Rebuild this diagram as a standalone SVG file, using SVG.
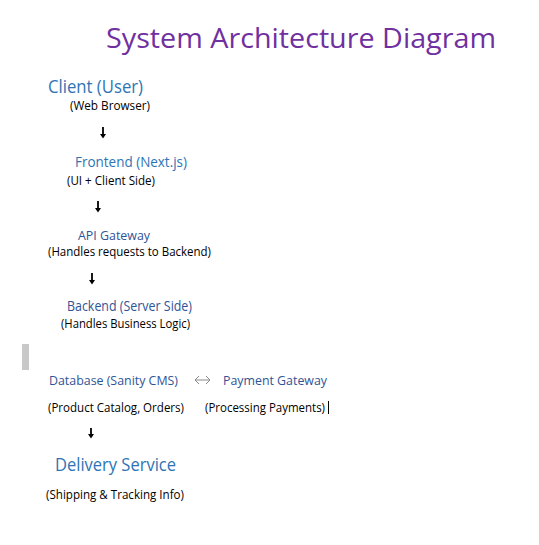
<svg xmlns="http://www.w3.org/2000/svg" width="539" height="545" viewBox="0 0 539 545">
  <defs>
    <style>
      text { font-family: "Open Sans", "Noto Sans", "Liberation Sans", sans-serif; }
      .title { fill: #7030A0; font-size: 27px; }
      .h1 { fill: #2E74B5; }
      .h3 { fill: #2F5496; }
      .desc { fill: #000000; font-size: 12px; }
      .arrow { stroke: #000000; stroke-width: 1.8; fill: none; }
      .head { fill: #000000; stroke: none; }
      .dbl { stroke: #8a8a8a; stroke-width: 1; fill: none; }
    </style>
  </defs>
  <rect x="0" y="0" width="539" height="545" fill="#ffffff"/>

  <text class="title" x="106" y="47.5" textLength="390" lengthAdjust="spacingAndGlyphs">System Architecture Diagram</text>

  <g id="client">
    <text class="h1" x="48" y="92.5" font-size="18" textLength="95" lengthAdjust="spacingAndGlyphs">Client (User)</text>
    <text class="desc" x="70" y="109.5" font-size="11.5" textLength="80" lengthAdjust="spacingAndGlyphs">(Web Browser)</text>
  </g>

  <g id="frontend">
    <text class="h1" x="75" y="167" font-size="15" textLength="112" lengthAdjust="spacingAndGlyphs">Frontend (Next.js)</text>
    <text class="desc" x="67" y="184.5" textLength="88" lengthAdjust="spacingAndGlyphs">(UI + Client Side)</text>
  </g>

  <g id="api-gateway">
    <text class="h3" x="78" y="239.5" font-size="13.5" textLength="72" lengthAdjust="spacingAndGlyphs">API Gateway</text>
    <text class="desc" x="48" y="256" textLength="163" lengthAdjust="spacingAndGlyphs">(Handles requests to Backend)</text>
  </g>

  <g id="backend">
    <text class="h3" x="67" y="311" font-size="14" textLength="125" lengthAdjust="spacingAndGlyphs">Backend (Server Side)</text>
    <text class="desc" x="61" y="328" textLength="129" lengthAdjust="spacingAndGlyphs">(Handles Business Logic)</text>
  </g>

  <rect x="22" y="344" width="7" height="26" fill="#c8c8c8"/>

  <g id="database">
    <text class="h3" x="49" y="385" font-size="13.5" textLength="129" lengthAdjust="spacingAndGlyphs">Database (Sanity CMS)</text>
    <text class="desc" x="48" y="412" textLength="136" lengthAdjust="spacingAndGlyphs">(Product Catalog, Orders)</text>
  </g>

  <g id="payment-gateway">
    <text class="h3" x="223" y="385" font-size="13.5" textLength="104" lengthAdjust="spacingAndGlyphs">Payment Gateway</text>
    <text class="desc" x="205" y="412" textLength="120" lengthAdjust="spacingAndGlyphs">(Processing Payments)</text>
  </g>

  <line x1="328.5" y1="401" x2="328.5" y2="414" stroke="#000000" stroke-width="1"/>

  <g id="delivery-service">
    <text class="h1" x="55" y="471" font-size="18.5" textLength="121" lengthAdjust="spacingAndGlyphs">Delivery Service</text>
    <text class="desc" x="46" y="499" font-size="12.5" textLength="138" lengthAdjust="spacingAndGlyphs">(Shipping &amp; Tracking Info)</text>
  </g>

  <g id="connectors">
    <line class="arrow" x1="103" y1="127" x2="103" y2="135"/>
    <path class="head" d="M100,134 L106,134 L103,138.5 Z"/>

    <line class="arrow" x1="98" y1="201" x2="98" y2="209"/>
    <path class="head" d="M95,208 L101,208 L98,212.5 Z"/>

    <line class="arrow" x1="92" y1="273" x2="92" y2="281"/>
    <path class="head" d="M89,280 L95,280 L92,284.5 Z"/>

    <line class="arrow" x1="91" y1="428" x2="91" y2="435"/>
    <path class="head" d="M88,434 L94,434 L91,438.5 Z"/>

    <path class="dbl" d="M195,380 L210,380 M199,376 L195,380 L199,384 M206,376 L210,380 L206,384"/>
  </g>
</svg>
